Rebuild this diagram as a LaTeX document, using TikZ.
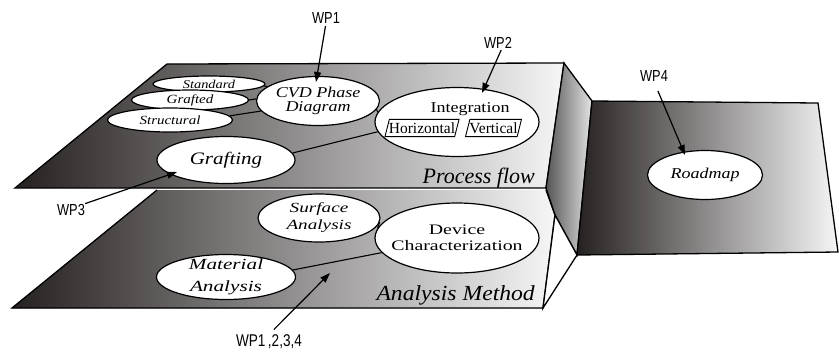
\documentclass[tikz,border=0pt]{standalone}
\usepackage{graphicx}
\usepackage{fontspec}
\setmainfont{Liberation Serif}
\setsansfont{Liberation Sans}
\newcommand\myfs[2]{\fontsize{#1bp}{#2bp}\selectfont}
\newcommand\zw[2][1.2]{\makebox[0pt]{\scalebox{#1}[1]{#2}}}
\newcommand\sx[2][1.2]{\scalebox{#1}[1]{#2}}
\usetikzlibrary{arrows.meta,shapes.geometric}
\definecolor{shdark}{RGB}{38,33,33}
\definecolor{shlight}{RGB}{246,246,246}
\definecolor{sidedark}{RGB}{85,85,85}
\definecolor{sidelight}{RGB}{228,228,228}
\begin{document}
\begin{tikzpicture}[x=1bp,y=-1bp,
 plane/.style={line width=1.3bp,line join=miter},
 oval/.style={ellipse,draw=black,fill=white,line width=1.2bp,inner sep=0pt,align=center},
 link/.style={line width=1.1bp},
 wparrow/.style={line width=1.2bp,-{Triangle[length=10bp,width=7bp]}},
 wplabel/.style={font=\sffamily\myfs{16}{16},inner sep=0pt,anchor=base},
 boxtext/.style={font=\myfs{15.5}{15.5},inner xsep=1.5bp,inner ysep=3bp},
 boxline/.style={line width=0.9bp,fill=white},
]
\useasboundingbox (0,0) rectangle (839,352);

% lower plane
\fill[left color=shdark,right color=shlight] (157,190) -- (546,190) -- (555,215) -- (543,308) -- (12,308) -- cycle;
\draw[plane] (157,190) -- (12,308) -- (543,308) -- (555,215) -- (546,190);
% top plane
\draw[plane,left color=shdark,right color=shlight] (167,64) -- (564,63) -- (546,188) -- (15,188) -- cycle;
% side face
\draw[plane,left color=sidedark,right color=sidelight] (564,63) -- (592,101) -- (577,255) -- (555,215) -- (546,188) -- cycle;
% white face
\draw[plane,fill=white] (555,215) -- (577,255) -- (543,308) -- cycle;
% right plane
\draw[plane,left color=shdark,right color=shlight] (592,101) -- (818,103) -- (838,252) -- (577,255) -- cycle;

% nodes on the process-flow plane
\node[oval,minimum width=112bp,minimum height=16bp,font=\itshape\myfs{12}{12}] (std) at (209,84) {\zw{Standard}};
\node[oval,minimum width=117bp,minimum height=20bp,font=\itshape\myfs{12.5}{12.5}] (grf) at (190,100) {\zw{Grafted}};
\node[oval,minimum width=125bp,minimum height=24bp,font=\itshape\myfs{12.5}{12.5}] (str) at (170,120) {\zw{Structural}};
\node[oval,minimum width=123bp,minimum height=49bp,font=\itshape\myfs{15}{14}] (cvd) at (318,101) {\zw{CVD Phase}\\\zw{Diagram}};
\node[oval,minimum width=138bp,minimum height=47bp,font=\itshape\myfs{17.5}{17.5}] (graft) at (226,160) {\zw{Grafting}};
\node[oval,minimum width=164bp,minimum height=69bp] (integ) at (457,122) {};
\node[font=\myfs{15}{15},inner sep=0pt,anchor=base] (integt) at (470,112) {\sx{Integration}};
\node[boxtext] (hor) at (422,128) {\phantom{Horizontal}};
\draw[boxline] ([xshift=2.2bp]hor.north west) -- ([xshift=2.2bp]hor.north east) -- ([xshift=-2.2bp]hor.south east) -- ([xshift=-2.2bp]hor.south west) -- cycle;
\node[boxtext] at (hor.center) {Horizontal};
\node[boxtext] (ver) at (493.5,128) {\phantom{Vertical}};
\draw[boxline] ([xshift=2.2bp]ver.north west) -- ([xshift=2.2bp]ver.north east) -- ([xshift=-2.2bp]ver.south east) -- ([xshift=-2.2bp]ver.south west) -- cycle;
\node[boxtext] at (ver.center) {Vertical};
\node[font=\itshape\myfs{22}{22},inner sep=0pt,anchor=base east] (pf) at (535,183) {Process flow};

% roadmap plane
\node[oval,minimum width=115bp,minimum height=49bp,font=\itshape\myfs{15}{15}] (road) at (705,175) {\zw{Roadmap}};

% analysis plane
\node[oval,minimum width=122bp,minimum height=48bp,font=\itshape\myfs{14}{17}] (surf) at (319,218) {\zw[1.37]{Surface}\\\zw[1.37]{Analysis}};
\node[oval,minimum width=139bp,minimum height=45bp,inner ysep=-3bp,font=\itshape\myfs{15.5}{22}] (mat) at (226,277) {\zw[1.37]{Material}\\\zw[1.37]{Analysis}};
\node[oval,minimum width=164bp,minimum height=70bp,font=\myfs{14.5}{16.5}] (dev) at (457,238) {\zw[1.37]{Device}\\\zw[1.37]{Characterization}};
\node[font=\itshape\myfs{21.5}{21.5},inner sep=0pt,anchor=base east] (am) at (535,300) {\sx[1.1]{Analysis Method}};

% connectors
\draw[link] (std.-2) -- (cvd.164);
\draw[link] (grf.0) -- (cvd.178);
\draw[link] (str.4) -- (cvd.190);
\draw[link] (cvd.-8) -- (integ.173);
\draw[link] (graft.6) -- (integ.187);
\draw[link] (surf.-4) -- (dev.173);
\draw[link] (mat.6) -- (dev.191);

% work-package labels and arrows
\coordinate (t1) at (316,82);
\coordinate (t2) at (482,93);
\coordinate (t3) at (177,172);
\coordinate (t4) at (685,155);
\coordinate (t5) at (330,273);
\node[wplabel] (wp1) at (326,23) {\sx[0.8]{WP1}};
\node[wplabel] (wp2) at (498,48) {\sx[0.8]{WP2}};
\node[wplabel] (wp4) at (654,81.5) {\sx[0.8]{WP4}};
\node[wplabel] (wp3) at (71,215) {\sx[0.8]{WP3}};
\node[wplabel,font=\sffamily\myfs{17}{17}] (wpall) at (269,346.5) {\sx[0.8]{WP1\kern3bp,2,3,4}};
\draw[wparrow,shorten <=3bp] (wp1.south) -- (t1);
\draw[wparrow,shorten <=2bp] ([xshift=4bp]wp2.south) -- (t2);
\draw[wparrow,shorten <=10bp] (wp4.south) -- (t4);
\draw[wparrow] (wp3.north east) -- (t3);
\draw[wparrow,shorten <=7bp] (wpall.north) -- (t5);
\end{tikzpicture}
\end{document}
